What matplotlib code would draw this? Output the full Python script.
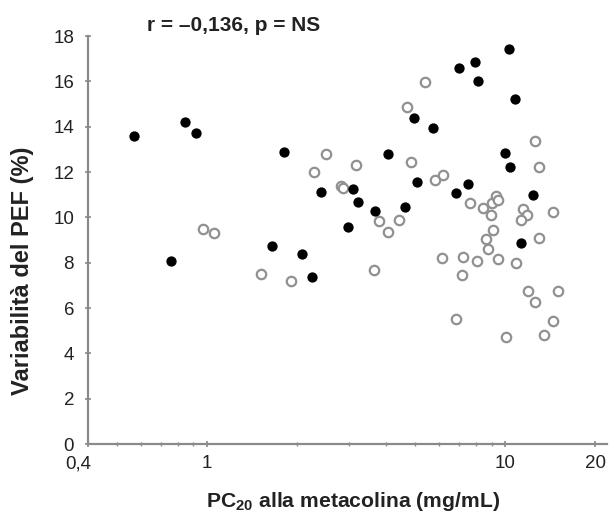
import matplotlib
matplotlib.use("Agg")
import matplotlib.pyplot as plt
import matplotlib.transforms as mtransforms
from matplotlib.ticker import FixedLocator, LogLocator, NullFormatter

plt.rcParams["font.family"] = ["Liberation Sans", "DejaVu Sans"]
plt.rcParams["mathtext.fontset"] = "custom"
plt.rcParams["mathtext.rm"] = "Liberation Sans:bold"
plt.rcParams["mathtext.bf"] = "Liberation Sans:bold"

# filled circles
filled_x = [0.57, 0.844, 0.918, 0.758, 1.81, 1.66, 2.08, 2.245, 2.41, 3.1,
            3.2, 2.98, 3.65, 4.6, 4.05, 4.93, 5.08, 5.74, 6.86, 7.52,
            7.02, 7.94, 8.13, 10.3, 10.8, 10.0, 10.4, 12.4, 11.3]
filled_y = [13.57, 14.19, 13.7, 8.06, 12.9, 8.72, 8.37, 7.36, 11.1, 11.23,
            10.66, 9.56, 10.26, 10.44, 12.8, 14.4, 11.54, 13.92, 11.06, 11.45,
            16.6, 16.87, 16.03, 17.44, 15.24, 12.86, 12.2, 11.0, 8.85]

# open circles
open_x = [0.97, 1.06, 1.515, 1.91, 2.28, 2.5, 2.81, 2.86, 3.17, 3.79,
          4.42, 4.06, 3.62, 4.82, 4.67, 5.4, 5.83, 6.2, 6.15, 7.24,
          8.06, 7.18, 6.86, 7.64, 8.44, 9.05, 9.33, 9.48, 8.98, 9.12,
          8.63, 8.78, 9.48, 10.88, 11.43, 11.85, 11.25, 13.0, 13.0, 12.6,
          14.5, 11.9, 12.6, 15.0, 14.4, 13.5, 10.07]
open_y = [9.47, 9.3, 7.49, 7.18, 11.98, 12.78, 11.37, 11.28, 12.29, 9.82,
          9.87, 9.34, 7.67, 12.42, 14.89, 15.99, 11.63, 11.85, 8.19, 8.24,
          8.06, 7.44, 5.5, 10.62, 10.4, 10.62, 10.93, 10.75, 10.09, 9.43,
          9.03, 8.59, 8.15, 7.97, 10.35, 10.09, 9.87, 9.07, 12.2, 13.39,
          10.22, 6.74, 6.26, 6.74, 5.42, 4.8, 4.71]

x_ticks = [0.4, 1, 10, 20]
x_tick_labels = ["0,4", "1", "10", "20"]
y_ticks = [0, 2, 4, 6, 8, 10, 12, 14, 16, 18]

fig = plt.figure(figsize=(6.09, 5.13), dpi=100)
ax = fig.add_axes([0.1445, 0.1345, 0.853, 0.7953])

ax.scatter(open_x, open_y, s=46, facecolor="white", edgecolor="#919191",
           linewidth=1.6, zorder=3)
ax.scatter(filled_x, filled_y, s=55, color="black", linewidth=0, zorder=4)

ax.set_xscale("log")
ax.set_xlim(0.4, 22)
ax.set_ylim(0, 18)

ax.xaxis.set_major_locator(FixedLocator(x_ticks))
ax.set_xticklabels(x_tick_labels)
ax.xaxis.set_minor_locator(LogLocator(base=10, subs=range(2, 10)))
ax.xaxis.set_minor_formatter(NullFormatter())
ax.set_yticks(y_ticks)

for side in ("top", "right"):
    ax.spines[side].set_visible(False)
for side in ("left", "bottom"):
    ax.spines[side].set_color("#8a8a8a")
    ax.spines[side].set_linewidth(1.6)

ax.tick_params(axis="both", which="both", direction="inout", color="#8a8a8a",
               labelsize=13.5, labelcolor="#222222")
ax.tick_params(axis="x", which="major", length=4, width=1.2, pad=6)
ax.tick_params(axis="y", which="major", length=4, width=1.2, pad=8)
ax.tick_params(axis="x", which="minor", length=3, width=1.0)

# the "0,4" label sits a little left of its tick
shift = mtransforms.ScaledTranslation(-10 / 100, 0, fig.dpi_scale_trans)
first = ax.get_xticklabels()[0]
first.set_transform(first.get_transform() + shift)

ax.set_ylabel("Variabilità del PEF (%)", fontsize=17, fontweight="bold",
              color="#222222")
ax.yaxis.set_label_coords(-0.104, 0.425)
ax.set_xlabel(r"PC$_{\mathbf{20}}$ alla metacolina (mg/mL)", fontsize=15.2,
              fontweight="bold", color="#222222")
ax.xaxis.set_label_coords(0.51, -0.112)

fig.text(147 / 609, 1 - 31 / 513, "r = –0,136, p = NS", fontsize=15,
         fontweight="bold", color="#222222", va="baseline", ha="left")

fig.savefig("out.png", dpi=100)
